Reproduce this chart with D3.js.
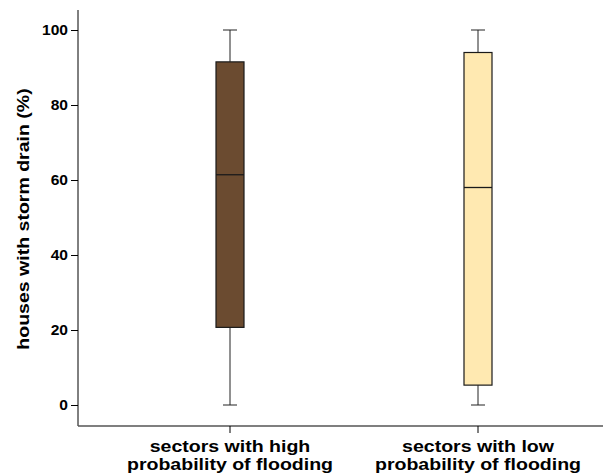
<!DOCTYPE html>
<html><head><meta charset="utf-8">
<script src="https://cdn.jsdelivr.net/npm/d3@7"></script>
<style>body{margin:0;background:#fff}svg{display:block}text{font-family:"Liberation Sans",Arial,sans-serif;font-weight:bold;fill:#000}</style>
</head><body>
<svg id="c" width="603" height="476"></svg>
<script>
const categories = [["sectors with high","probability of flooding"],["sectors with low","probability of flooding"]];
const whiskerLow = [0, 0];
const q1 = [20.7, 5.3];
const median = [61.4, 58.0];
const q3 = [91.5, 94.0];
const whiskerHigh = [100, 100];
const colors = ["#6b4b30", "#ffe9b1"];
const yTicks = [0, 20, 40, 60, 80, 100];

const svg = d3.select("#c");
const mLeft = 78, mTop = 10, mBottom = 426, mRight = 603;
const y = d3.scaleLinear().domain([0, 100]).range([405, 30]);
const x = d3.scalePoint().domain([0, 1]).range([230, 478]);
const boxW = 28, capW = 14;
const sx = 1.15;

// axes
const yAxis = svg.append("g").attr("transform", `translate(${mLeft},0)`)
  .call(d3.axisLeft(y).tickValues(yTicks).tickSize(7).tickPadding(2).tickFormat(d3.format("d")));
yAxis.select(".domain").remove();
yAxis.attr("font-family", null).attr("font-size", null);
yAxis.selectAll("text").style("font-size", "13.8px").style("font-family", '"Liberation Sans",Arial,sans-serif')
  .attr("x", 0).attr("transform", `translate(-10,0) scale(1.13,1)`).attr("dy", "0.36em");
yAxis.selectAll("line").attr("stroke", "#000");
svg.append("line").attr("x1", mLeft).attr("x2", mLeft).attr("y1", mTop).attr("y2", mBottom).attr("stroke", "#000");
svg.append("line").attr("x1", mLeft).attr("x2", mRight).attr("y1", mBottom).attr("y2", mBottom).attr("stroke", "#555").attr("stroke-width", 1.5);

const xg = svg.append("g");
categories.forEach((c, i) => {
  xg.append("line").attr("x1", x(i)).attr("x2", x(i)).attr("y1", mBottom).attr("y2", mBottom + 7).attr("stroke", "#000");
  const t = xg.append("text").attr("text-anchor", "middle").style("font-size", "17px")
    .attr("transform", `translate(${x(i)},0) scale(${sx},1)`);
  c.forEach((l, j) => t.append("tspan").attr("x", 0).attr("y", 452 + j * 18).text(l));
});

svg.append("text").attr("transform", `translate(29,219) rotate(-90) scale(${sx},1)`).attr("text-anchor", "middle")
  .style("font-size", "17px").text("houses with storm drain (%)");

// boxes
categories.forEach((c, i) => {
  const cx = x(i);
  const g = svg.append("g");
  g.append("line").attr("x1", cx).attr("x2", cx).attr("y1", y(whiskerHigh[i])).attr("y2", y(q3[i])).attr("stroke", "#222");
  g.append("line").attr("x1", cx).attr("x2", cx).attr("y1", y(q1[i])).attr("y2", y(whiskerLow[i])).attr("stroke", "#222");
  g.append("line").attr("x1", cx - capW/2).attr("x2", cx + capW/2).attr("y1", y(whiskerHigh[i])).attr("y2", y(whiskerHigh[i])).attr("stroke", "#222");
  g.append("line").attr("x1", cx - capW/2).attr("x2", cx + capW/2).attr("y1", y(whiskerLow[i])).attr("y2", y(whiskerLow[i])).attr("stroke", "#222");
  g.append("rect").attr("x", cx - boxW/2).attr("width", boxW).attr("y", y(q3[i])).attr("height", y(q1[i]) - y(q3[i]))
    .attr("fill", colors[i]).attr("stroke", "#1a1a1a").attr("stroke-width", 1.2);
  g.append("line").attr("x1", cx - boxW/2).attr("x2", cx + boxW/2).attr("y1", y(median[i])).attr("y2", y(median[i])).attr("stroke", "#1a1a1a").attr("stroke-width", 1.3);
});
</script>
</body></html>
